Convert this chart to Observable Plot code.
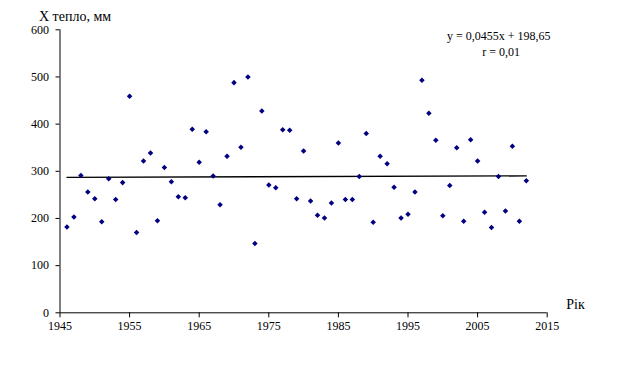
<!DOCTYPE html>
<html>
<head>
<meta charset="utf-8">
<script src="https://cdn.jsdelivr.net/npm/d3@7"></script>
<script src="https://cdn.jsdelivr.net/npm/@observablehq/plot@0.6"></script>
<style>
  html, body { margin: 0; padding: 0; background: #fff; }
  #chart svg { display: block; }
  #chart svg, #chart svg text, #chart svg g { font-family: "Liberation Serif", "Times New Roman", serif !important; }
</style>
</head>
<body>
<div id="chart"></div>
<script>
const years = [1946,1947,1948,1949,1950,1951,1952,1953,1954,1955,1956,1957,1958,1959,1960,1961,1962,1963,1964,1965,1966,1967,1968,1969,1970,1971,1972,1973,1974,1975,1976,1977,1978,1979,1980,1981,1982,1983,1984,1985,1986,1987,1988,1989,1990,1991,1992,1993,1994,1995,1996,1997,1998,1999,2000,2001,2002,2003,2004,2005,2006,2007,2008,2009,2010,2011,2012];
const values = [182,203,291,256,242,193,284,240,276,459,170,322,339,195,308,278,246,244,389,319,384,290,229,332,488,351,500,147,428,271,265,388,387,242,343,237,207,201,233,360,240,240,289,380,192,332,316,266,201,209,256,493,423,366,206,270,350,194,367,322,213,181,289,216,353,194,280];
const trendYears = [1946, 2012];
const trendValues = [287.2, 290.2];
const xTicks = [1945,1955,1965,1975,1985,1995,2005,2015];
const yTicks = [0,100,200,300,400,500,600];
const yLabel = "X тепло, мм";
const xLabel = "Рік";
const equation = "y = 0,0455x + 198,65";
const rText = "r = 0,01";

const FONT = "Liberation Serif";
const points = years.map((y, i) => ({year: y, value: values[i]}));
const trend = trendYears.map((y, i) => ({year: y, value: trendValues[i]}));

const chart = Plot.plot({
  width: 621,
  height: 384,
  marginLeft: 59.5,
  marginRight: 74.3,
  marginTop: 29.3,
  marginBottom: 71.7,
  style: "font-family: 'Liberation Serif', serif; font-size: 12px; color: #000; background: #fff;",
  x: {domain: [1945, 2015]},
  y: {domain: [0, 600]},
  marks: [
    Plot.axisX({ticks: xTicks, tickFormat: d => String(d), tickSize: 5, tickPadding: 4, label: null, fontSize: 12, fontFamily: FONT}),
    Plot.axisY({ticks: yTicks, tickFormat: d => String(d), tickSize: 4, tickPadding: 7, label: null, fontSize: 12, fontFamily: FONT}),
    Plot.ruleY([0], {stroke: "#000", strokeWidth: 1}),
    Plot.ruleX([1945], {stroke: "#000", strokeWidth: 1}),
    Plot.line(trend, {x: "year", y: "value", stroke: "#000", strokeWidth: 1.3}),
    Plot.dot(points, {x: "year", y: "value", symbol: "square", rotate: 45, r: 2.2, fill: "#000080", stroke: "none"}),
    Plot.text([yLabel], {text: d => d, frameAnchor: "top-left", textAnchor: "start", lineAnchor: "middle", dx: -21, dy: -13.5, fontSize: 14, fontFamily: FONT}),
    Plot.text([xLabel], {text: d => d, frameAnchor: "bottom-right", textAnchor: "start", lineAnchor: "middle", dx: 19, dy: -8, fontSize: 14, fontFamily: FONT}),
    Plot.text([equation], {text: d => d, frameAnchor: "top-right", textAnchor: "middle", lineAnchor: "middle", dx: -48.5, dy: 6.7, fontSize: 12, fontFamily: FONT}),
    Plot.text([rText], {text: d => d, frameAnchor: "top-right", textAnchor: "middle", lineAnchor: "middle", dx: -46, dy: 22.5, fontSize: 12, fontFamily: FONT})
  ]
});
document.getElementById("chart").appendChild(chart);
</script>
</body>
</html>
